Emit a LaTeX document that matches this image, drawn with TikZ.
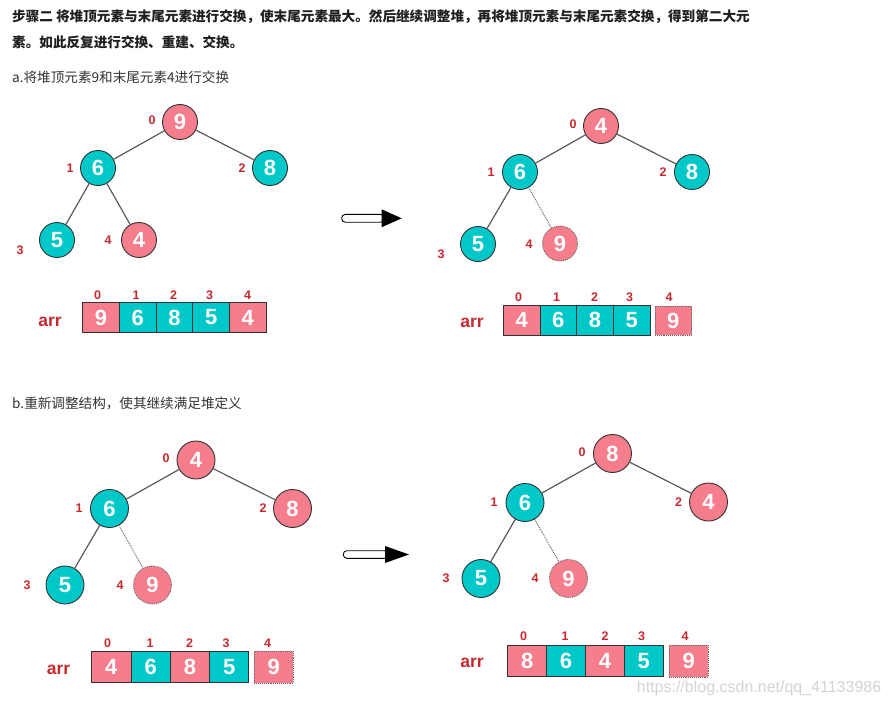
\documentclass[tikz,border=0pt]{standalone}
\usepackage{fontspec}
\setmainfont{Liberation Sans}
\newfontfamily\cjk{Noto Sans CJK SC}
\definecolor{hpink}{HTML}{F67D8B}
\definecolor{hteal}{HTML}{00C8C8}
\definecolor{hred}{HTML}{C62930}
\definecolor{hline}{HTML}{5A5A5A}
\tikzset{
  hn/.style={circle, draw=black!80, line width=0.9pt, minimum size=#1, inner sep=0pt, outer sep=0pt,
    text=white, font=\fontsize{22}{22}\selectfont\bfseries},
  hn/.default=35pt,
  pk/.style={fill=hpink},
  tl/.style={fill=hteal},
  ghost/.style={fill=hpink, draw=black!60, densely dotted},
  idx/.style={text=hred, font=\fontsize{12.5}{13}\selectfont\bfseries, inner sep=0pt},
  arrlbl/.style={text=hred, font=\fontsize{17.5}{18}\selectfont\bfseries, inner sep=0pt},
  tedge/.style={draw=hline, line width=1.2pt},
  dedge/.style={draw=hline, line width=0.9pt, densely dotted},
  cell/.style={rectangle, draw=black!80, line width=0.9pt, minimum width=#1, inner sep=0pt, outer sep=0pt,
    text=white, font=\fontsize{22}{22}\selectfont\bfseries},
  title/.style={anchor=west, inner sep=0pt, text=black!88, font=\cjk\fontsize{13.6}{14}\selectfont\bfseries},
  sub/.style={anchor=west, inner sep=0pt, text=black!80, font=\cjk\fontsize{13.6}{14}\selectfont},
  shaft/.style={draw=black, line width=0.9pt, fill=white, rounded corners=3.5pt},
}
\begin{document}
\begin{tikzpicture}[x=1pt,y=-1pt]
\fill[white] (0,0) rectangle (889,706);
\useasboundingbox (0,0) rectangle (889,706);

% ---- text ----
\node[title] (t1) at (12,17) {步骤二 将堆顶元素与末尾元素进行交换，使末尾元素最大。然后继续调整堆，再将堆顶元素与末尾元素交换，得到第二大元};
\node[title] (t2) at (12,42) {素。如此反复进行交换、重建、交换。};
\node[sub] (t3) at (12,77) {a.将堆顶元素9和末尾元素4进行交换};
\node[sub] (t4) at (12,403) {b.重新调整结构，使其继续满足堆定义};

% ---- tree A (top-left) ----
\node[hn,pk] (A0) at (180,122) {9};
\node[hn,tl] (A1) at (98,168) {6};
\node[hn,tl] (A2) at (270,168) {8};
\node[hn,tl] (A3) at (57,240) {5};
\node[hn,pk] (A4) at (139,240) {4};
\draw[tedge] (A0) -- (A1);
\draw[tedge] (A0) -- (A2);
\draw[tedge] (A1) -- (A3);
\draw[tedge] (A1) -- (A4);
\node[idx] (Ai0) at (152,120) {0};
\node[idx] (Ai1) at (70,168) {1};
\node[idx] (Ai2) at (242,168) {2};
\node[idx] (Ai3) at (20,250) {3};
\node[idx] (Ai4) at (108,240) {4};

% ---- tree B (top-right) ----
\node[hn,pk] (B0) at (601,126) {4};
\node[hn,tl] (B1) at (520,172) {6};
\node[hn,tl] (B2) at (692,172) {8};
\node[hn,tl] (B3) at (478,244) {5};
\node[hn,ghost] (B4) at (560,243.5) {9};
\draw[tedge] (B0) -- (B1);
\draw[tedge] (B0) -- (B2);
\draw[tedge] (B1) -- (B3);
\draw[dedge] (B1) -- (B4);
\node[idx] (Bi0) at (573,124) {0};
\node[idx] (Bi1) at (491,172.5) {1};
\node[idx] (Bi2) at (663,172.5) {2};
\node[idx] (Bi3) at (441,254) {3};
\node[idx] (Bi4) at (529,244) {4};

% ---- tree C (bottom-left) ----
\node[hn=38pt,pk] (C0) at (196,460) {4};
\node[hn=38pt,tl] (C1) at (109.5,508.5) {6};
\node[hn=38pt,pk] (C2) at (292.5,508.5) {8};
\node[hn=38pt,tl] (C3) at (65,585) {5};
\node[hn=38pt,ghost] (C4) at (152.5,585) {9};
\draw[tedge] (C0) -- (C1);
\draw[tedge] (C0) -- (C2);
\draw[tedge] (C1) -- (C3);
\draw[dedge] (C1) -- (C4);
\node[idx] (Ci0) at (166,458.5) {0};
\node[idx] (Ci1) at (79,508.5) {1};
\node[idx] (Ci2) at (263,508.5) {2};
\node[idx] (Ci3) at (27,585) {3};
\node[idx] (Ci4) at (120,585) {4};

% ---- tree D (bottom-right) ----
\node[hn=38pt,pk] (D0) at (612.5,453.5) {8};
\node[hn=38pt,tl] (D1) at (525,502.5) {6};
\node[hn=38pt,pk] (D2) at (708.5,502) {4};
\node[hn=38pt,tl] (D3) at (481,578.5) {5};
\node[hn=38pt,ghost] (D4) at (568.5,578.5) {9};
\draw[tedge] (D0) -- (D1);
\draw[tedge] (D0) -- (D2);
\draw[tedge] (D1) -- (D3);
\draw[dedge] (D1) -- (D4);
\node[idx] (Di0) at (582,452) {0};
\node[idx] (Di1) at (494,502.5) {1};
\node[idx] (Di2) at (678.5,502.5) {2};
\node[idx] (Di3) at (446,578.5) {3};
\node[idx] (Di4) at (535,578.5) {4};

% ---- arrows ----
\draw[shaft] (341.7,214.4) rectangle (384,222.2);
\fill[black] (381.5,209.3) -- (401.7,218.3) -- (381.5,227.3) -- cycle;
\draw[shaft] (343.3,550.7) rectangle (388,558.3);
\fill[black] (385,546) -- (409,554.5) -- (385,563) -- cycle;

% ---- array A ----
\node[arrlbl] (aA) at (50,321.5) {arr};
\begin{scope}[every node/.append style={minimum height=29.6pt}]
\node[cell=36.7pt,pk] (aA0) at (101.05,317.5) {9};
\node[cell=36.7pt,tl] (aA1) at (137.75,317.5) {6};
\node[cell=36.7pt,tl] (aA2) at (174.45,317.5) {8};
\node[cell=36.7pt,tl] (aA3) at (211.15,317.5) {5};
\node[cell=36.7pt,pk] (aA4) at (247.85,317.5) {4};
\end{scope}
\node[idx] (iA0) at (97.5,295) {0};
\node[idx] (iA1) at (136,295) {1};
\node[idx] (iA2) at (173.5,295) {2};
\node[idx] (iA3) at (209.5,295) {3};
\node[idx] (iA4) at (247.5,295) {4};

% ---- array B ----
\node[arrlbl] (aB) at (472,322.5) {arr};
\begin{scope}[every node/.append style={minimum height=29.3pt}]
\node[cell=36.7pt,pk] (aB0) at (521.65,320.35) {4};
\node[cell=36.7pt,tl] (aB1) at (558.35,320.35) {6};
\node[cell=36.7pt,tl] (aB2) at (595.05,320.35) {8};
\node[cell=36.7pt,tl] (aB3) at (631.75,320.35) {5};
\node[cell=36.7pt,ghost] (aB4) at (673.3,320.8) {9};
\end{scope}
\node[idx] (iB0) at (518.5,297.5) {0};
\node[idx] (iB1) at (556.5,297.5) {1};
\node[idx] (iB2) at (594.5,297.5) {2};
\node[idx] (iB3) at (629.5,297.5) {3};
\node[idx] (iB4) at (669,297.5) {4};

% ---- array C ----
\node[arrlbl] (aC) at (58.5,670) {arr};
\begin{scope}[every node/.append style={minimum height=31.7pt}]
\node[cell=39.3pt,pk] (aC0) at (111.35,666.85) {4};
\node[cell=39.3pt,tl] (aC1) at (150.65,666.85) {6};
\node[cell=39.3pt,pk] (aC2) at (189.95,666.85) {8};
\node[cell=39.3pt,tl] (aC3) at (229.25,666.85) {5};
\node[cell=39pt,ghost] (aC4) at (273.8,667.2) {9};
\end{scope}
\node[idx] (iC0) at (107.5,643.5) {0};
\node[idx] (iC1) at (150,643.5) {1};
\node[idx] (iC2) at (189.5,643.5) {2};
\node[idx] (iC3) at (226,643.5) {3};
\node[idx] (iC4) at (267.5,643.5) {4};

% ---- array D ----
\node[arrlbl] (aD) at (472,662.5) {arr};
\begin{scope}[every node/.append style={minimum height=31.7pt}]
\node[cell=38.9pt,pk] (aD0) at (527.15,660.85) {8};
\node[cell=38.9pt,tl] (aD1) at (566.05,660.85) {6};
\node[cell=38.9pt,pk] (aD2) at (604.95,660.85) {4};
\node[cell=38.9pt,tl] (aD3) at (643.85,660.85) {5};
\node[cell=39pt,ghost] (aD4) at (688.8,661.2) {9};
\end{scope}
\node[idx] (iD0) at (523.5,636) {0};
\node[idx] (iD1) at (565,636) {1};
\node[idx] (iD2) at (605,636) {2};
\node[idx] (iD3) at (641.5,636) {3};
\node[idx] (iD4) at (685,636) {4};

% ---- watermark ----
\node[anchor=west, inner sep=0pt, text=black!17, font=\fontsize{16}{16}\selectfont] (wm) at (636.7,688.3) {https://blog.csdn.net/qq\_41133986};
\end{tikzpicture}
\end{document}
